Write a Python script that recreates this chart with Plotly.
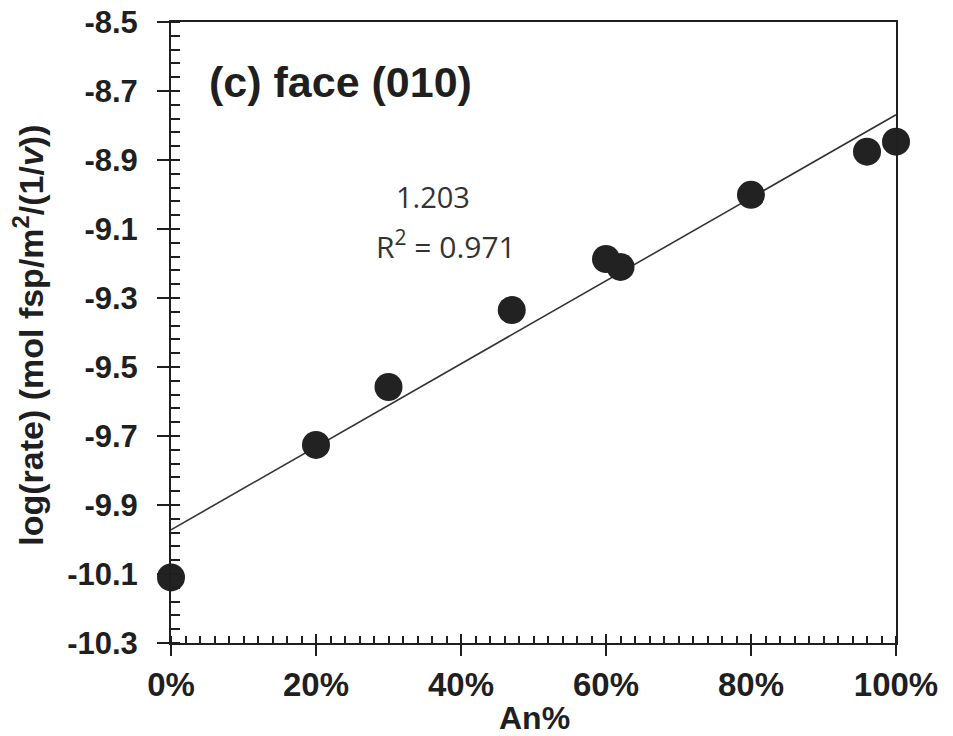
import plotly.graph_objects as go

# Data
an_frac = [0.0, 0.20, 0.30, 0.47, 0.60, 0.62, 0.80, 0.96, 1.00]
log_rate = [-10.11, -9.726, -9.558, -9.335, -9.187, -9.21, -9.001, -8.876, -8.847]

fit_slope = 1.203
fit_intercept = -9.972
fit_r2 = 0.971

x_tickvals = [0.0, 0.2, 0.4, 0.6, 0.8, 1.0]
x_ticktext = ["0%", "20%", "40%", "60%", "80%", "100%"]
y_tickvals = [-10.3, -10.1, -9.9, -9.7, -9.5, -9.3, -9.1, -8.9, -8.7, -8.5]
y_ticktext = ["-10.3", "-10.1", "-9.9", "-9.7", "-9.5", "-9.3", "-9.1", "-8.9", "-8.7", "-8.5"]

fit_x = [0.0, 1.0]
fit_y = [fit_intercept + fit_slope * v for v in fit_x]

INK = "#1f1f1f"
FAM = "Liberation Sans, Arial, sans-serif"

fig = go.Figure()
fig.add_trace(go.Scatter(x=fit_x, y=fit_y, mode="lines",
                         line=dict(color="#333333", width=1.6),
                         hoverinfo="skip", showlegend=False, cliponaxis=False))
fig.add_trace(go.Scatter(x=an_frac, y=log_rate, mode="markers",
                         marker=dict(size=28, color="#222222", line=dict(width=0)),
                         showlegend=False, cliponaxis=False))
# invisible trace to anchor the overlay axes (for crossing major ticks)
fig.add_trace(go.Scatter(x=[None], y=[None], xaxis="x2", yaxis="y2",
                         mode="markers", showlegend=False, hoverinfo="skip"))

fig.update_layout(
    width=953, height=736,
    margin=dict(l=171, r=57, t=22, b=93, autoexpand=False),
    plot_bgcolor="white", paper_bgcolor="white",
    xaxis=dict(range=[0, 1], tickvals=x_tickvals, ticktext=x_ticktext,
               showgrid=False, zeroline=False, showline=True, linecolor=INK,
               linewidth=2, mirror=True, ticks="outside", ticklen=11,
               tickwidth=2, tickcolor=INK, automargin=False,
               tickfont=dict(family=FAM, size=33, color=INK, weight="bold"),
               ticklabelstandoff=0,
               minor=dict(dtick=0.02, tick0=0, ticks="inside", ticklen=7,
                          tickwidth=1.5, tickcolor=INK, showgrid=False)),
    yaxis=dict(range=[-10.3, -8.5], tickvals=y_tickvals, ticktext=y_ticktext,
               showgrid=False, zeroline=False, showline=True, linecolor=INK,
               linewidth=2, mirror=True, ticks="outside", ticklen=12,
               tickwidth=2, tickcolor=INK, automargin=False,
               tickfont=dict(family=FAM, size=31, color=INK, weight="bold"),
               ticklabelstandoff=13,
               minor=dict(dtick=0.04, tick0=-10.3, ticks="inside", ticklen=9,
                          tickwidth=1.5, tickcolor=INK, showgrid=False)),
    xaxis2=dict(range=[0, 1], overlaying="x", anchor="y2", side="bottom",
                tickvals=x_tickvals, ticks="inside", ticklen=9, tickwidth=2,
                tickcolor=INK, showticklabels=False, showgrid=False,
                zeroline=False, showline=False, automargin=False),
    yaxis2=dict(range=[-10.3, -8.5], overlaying="y", anchor="x2", side="left",
                tickvals=y_tickvals, ticks="inside", ticklen=9, tickwidth=2,
                tickcolor=INK, showticklabels=False, showgrid=False,
                zeroline=False, showline=False, automargin=False),
)

fig.add_annotation(x=0.05, y=-8.675, xref="x", yref="y", text="(c) face (010)",
                   showarrow=False, xanchor="left", yanchor="middle",
                   font=dict(family=FAM, size=43, color=INK, weight="bold"))
fig.add_annotation(x=0.361, y=-9.007, xref="x", yref="y", text=f"{fit_slope:.3f}",
                   showarrow=False, xanchor="center", yanchor="middle",
                   font=dict(family="Open Sans, sans-serif", size=29, color="#333333"))
fig.add_annotation(x=0.379, y=-9.146, xref="x", yref="y",
                   text=f"R<sup>2</sup> = {fit_r2:.3f}",
                   showarrow=False, xanchor="center", yanchor="middle",
                   font=dict(family="Open Sans, sans-serif", size=30, color="#333333"))
fig.add_annotation(x=0.502, y=-0.121, xref="paper", yref="paper", text="An%",
                   showarrow=False, xanchor="center", yanchor="middle",
                   font=dict(family=FAM, size=32, color=INK, weight="bold"))
fig.add_annotation(x=-0.197, y=0.495, xref="paper", yref="paper",
                   text="log(rate) (mol fsp/m<sup>2</sup>/(1/<i>v</i>))",
                   textangle=-90, showarrow=False, xanchor="center", yanchor="middle",
                   font=dict(family=FAM, size=34, color=INK, weight="bold"))

fig.write_html("out.html")
